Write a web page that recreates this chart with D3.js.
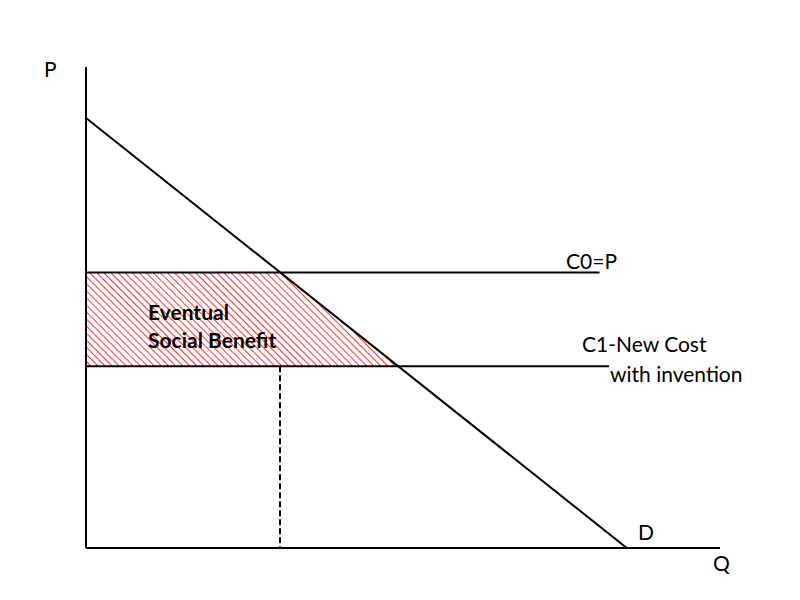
<!DOCTYPE html>
<html>
<head>
<meta charset="utf-8">
<script src="https://cdn.jsdelivr.net/npm/d3@7"></script>
<style>
  body { margin: 0; background: #fff; }
</style>
</head>
<body>
<div id="chart"></div>
<script>
// values in chart units (Q and P both 0..100)
var demandPoints = [{q: 0, p: 89.4}, {q: 85.3, p: 0}];
var costLevels = [
  {name: "C0", p: 57.3, qEnd: 81.0},
  {name: "C1", p: 37.8, qEnd: 82.5}
];
var dashedQ = 30.6;
var axisEnds = {q: 100, p: 100};

var width = 800, height = 600;

var x = d3.scaleLinear().domain([0, 100]).range([86, 720]);
var y = d3.scaleLinear().domain([0, 100]).range([548, 67]);

var svg = d3.select("#chart")
  .append("svg")
  .attr("width", width)
  .attr("height", height);

// hatch pattern
var defs = svg.append("defs");
defs.append("pattern")
  .attr("id", "hatch")
  .attr("patternUnits", "userSpaceOnUse")
  .attr("width", 5)
  .attr("height", 5)
  .attr("patternTransform", "rotate(-45)")
  .append("line")
    .attr("x1", 0).attr("y1", 0)
    .attr("x2", 0).attr("y2", 5)
    .style("stroke", "#ff0000")
    .style("stroke-width", 1.6);

function demandQ(p) {
  var a = demandPoints[0], b = demandPoints[1];
  return a.q + (p - a.p) * (b.q - a.q) / (b.p - a.p);
}

var pHigh = costLevels[0].p, pLow = costLevels[1].p;
var area = [
  [0, pHigh], [demandQ(pHigh), pHigh], [demandQ(pLow), pLow], [0, pLow]
];

svg.append("path")
  .datum(area)
  .attr("d", d3.line().x(function(d) { return x(d[0]); }).y(function(d) { return y(d[1]); }))
  .style("fill", "url(#hatch)")
  .style("stroke", "none");

// axes
svg.append("line")
  .attr("x1", x(0)).attr("y1", y(0))
  .attr("x2", x(0)).attr("y2", y(axisEnds.p))
  .style("stroke", "#000").style("stroke-width", 2);
svg.append("line")
  .attr("x1", x(0)).attr("y1", y(0))
  .attr("x2", x(axisEnds.q)).attr("y2", y(0))
  .style("stroke", "#000").style("stroke-width", 2);

// cost lines
svg.selectAll(".cost")
  .data(costLevels)
  .enter().append("line")
  .attr("class", "cost")
  .attr("x1", x(0))
  .attr("x2", function(d) { return x(d.qEnd); })
  .attr("y1", function(d) { return y(d.p); })
  .attr("y2", function(d) { return y(d.p); })
  .style("stroke", "#000").style("stroke-width", 2);

// demand
svg.append("path")
  .datum(demandPoints)
  .attr("d", d3.line().x(function(d) { return x(d.q); }).y(function(d) { return y(d.p); }))
  .style("fill", "none")
  .style("stroke", "#000").style("stroke-width", 2);

// dashed drop line
svg.append("line")
  .attr("x1", x(dashedQ)).attr("x2", x(dashedQ))
  .attr("y1", y(pLow)).attr("y2", y(0))
  .style("stroke", "#000").style("stroke-width", 2)
  .style("stroke-dasharray", "6,3");

// labels
var labels = [
  {t: "P", x: 44, y: 77, bold: false},
  {t: "C0=P", x: 566, y: 269, bold: false},
  {t: "C1-New Cost", x: 582, y: 352, bold: false},
  {t: "with invention", x: 610, y: 382, bold: false},
  {t: "D", x: 638, y: 540, bold: false},
  {t: "Q", x: 713, y: 571, bold: false},
  {t: "Eventual", x: 148, y: 320, bold: true},
  {t: "Social Benefit", x: 148, y: 348, bold: true}
];
svg.selectAll(".lbl")
  .data(labels)
  .enter().append("text")
  .attr("class", "lbl")
  .attr("x", function(d) { return d.x; })
  .attr("y", function(d) { return d.y; })
  .style("font-family", "Lato, 'Open Sans', sans-serif")
  .style("font-size", "21px")
  .style("font-weight", function(d) { return d.bold ? "bold" : "normal"; })
  .style("fill", "#000")
  .text(function(d) { return d.t; });
</script>
</body>
</html>
